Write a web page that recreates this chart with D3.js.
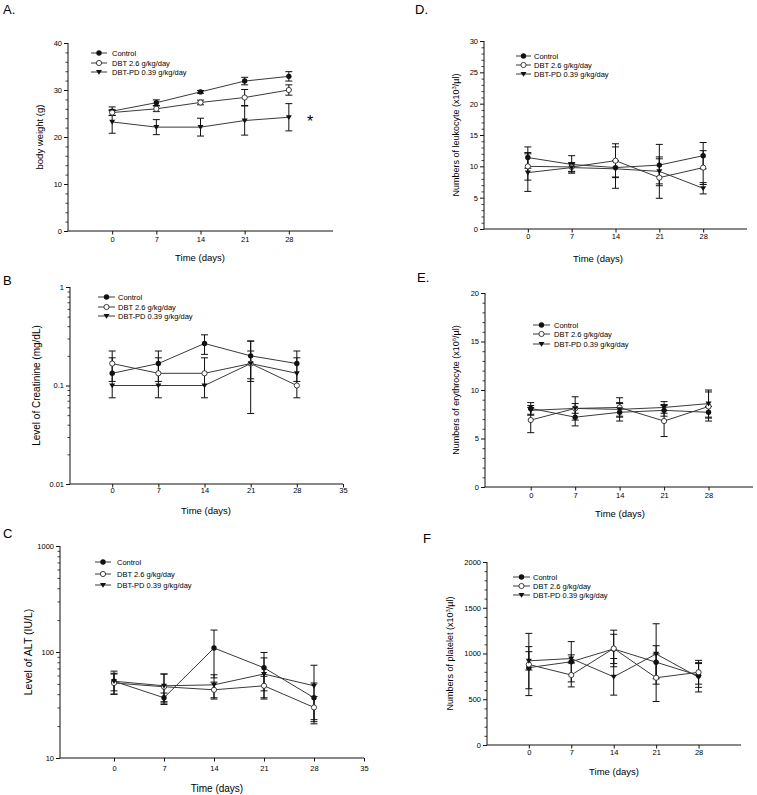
<!DOCTYPE html>
<html><head><meta charset="utf-8">
<script src="https://cdn.jsdelivr.net/npm/d3@7"></script>
<style>
body{margin:0;background:#fff}
svg{display:block}
text{font-family:"Liberation Sans",Arial,sans-serif;fill:#000}
</style>
</head><body>
<svg id="chart" width="757" height="795"></svg>
<script>
// ---------- data ----------
const days = [0, 7, 14, 21, 28];
const dayTicks = [0, 7, 14, 21, 28];
const dayTicksWide = [0, 7, 14, 21, 28, 35];
const seriesNames = ["Control", "DBT 2.6 g/kg/day", "DBT-PD 0.39 g/kg/day"];

// A. body weight (g)
const weightMeans = [[25.5, 27.3, 29.6, 31.9, 32.9], [25.2, 26.0, 27.35, 28.4, 30.0], [23.2, 22.1, 22.1, 23.5, 24.2]];
const weightErr   = [[0.9, 0.6, 0.3, 0.8, 1.0], [0.6, 0.6, 0.5, 1.7, 1.1], [2.4, 1.6, 1.9, 3.1, 2.9]];
const weightTicks = [0, 10, 20, 30, 40];

// B. creatinine (mg/dL)
const creatMeans = [[0.133, 0.167, 0.267, 0.2, 0.167], [0.167, 0.133, 0.133, 0.167, 0.1], [0.1, 0.1, 0.1, 0.167, 0.133]];
const creatErr   = [[0.058, 0.057, 0.06, 0.083, 0.057], [0.057, 0.058, 0.058, 0.115, 0], [0, 0, 0, 0.057, 0.058]];
const creatTicks = [0.01, 0.1, 1];

// C. ALT (IU/L)
const altMeans = [[53, 37, 109, 71, 37], [51, 47, 44, 48, 30], [53, 48, 49, 62, 48]];
const altErr   = [[13, 4, 52, 28, 14], [11, 15, 8, 11, 8], [10, 14, 12, 26, 27]];
const altTicks = [10, 100, 1000];

// D. leukocyte (x10^3/µl)
const leukoMeans = [[11.4, 10.3, 9.8, 10.2, 11.7], [10.0, 9.9, 10.9, 8.2, 9.8], [9.0, 9.8, 9.6, 9.2, 6.5]];
const leukoErr   = [[1.7, 1.4, 3.3, 3.3, 2.1], [2.2, 0.7, 2.7, 3.3, 2.7], [3.0, 0.7, 1.3, 2.0, 0.9]];
const leukoTicks = [0, 5, 10, 15, 20, 25, 30];

// E. erythrocyte (x10^6/µl)
const erythMeans = [[8.1, 7.2, 7.7, 7.9, 7.7], [6.9, 8.1, 8.2, 6.8, 8.3], [7.9, 8.1, 8.0, 8.2, 8.6]];
const erythErr   = [[0.6, 0.9, 0.9, 0.6, 0.6], [1.3, 1.2, 1.0, 1.6, 1.5], [0.5, 0.5, 0.7, 0.6, 1.4]];
const erythTicks = [0, 5, 10, 15, 20];

// F. platelet (x10^3/µl)
const platMeans = [[845, 910, 1050, 905, 760], [880, 765, 1055, 735, 795], [920, 945, 745, 995, 740]];
const platErr   = [[230, 220, 160, 180, 130], [340, 130, 200, 260, 130], [100, 40, 200, 330, 160]];
const platTicks = [0, 500, 1000, 1500, 2000];

// ---------- layout ----------
const panels = [
  {label: "A.", lx: 3, ly: 14, L: 68, R: 333, T: 43, B: 231, xdom: [-7, 35], xt: dayTicks, log: false,
   ydom: [0, 40], yt: weightTicks, minor: 2, means: weightMeans, errs: weightErr,
   ytitle: [["body weight (g)"]], ytx: 43, xtc: 200, xty: 261, xlo: 14,
   leg: {x1: 91, x2: 107, tx: 112, ys: [53, 63, 72]}, yfs: 9.5},
  {label: "B", lx: 3, ly: 285, L: 70, R: 343, T: 287, B: 484, xdom: [-6.4, 35], xt: dayTicksWide, log: true,
   ydom: [0.01, 1], yt: creatTicks, means: creatMeans, errs: creatErr,
   ytitle: [["Level of Creatinine (mg/dL)"]], ytx: 40, xtc: 206, xty: 514, xlo: 12,
   leg: {x1: 98, x2: 115, tx: 118, ys: [297, 307, 316]}, yfs: 10},
  {label: "C", lx: 3, ly: 538, L: 60, R: 364, T: 546, B: 758, xdom: [-7.56, 35], xt: dayTicksWide, log: true,
   ydom: [10, 1000], yt: altTicks, means: altMeans, errs: altErr,
   ytitle: [["Level of ALT (IU/L)"]], ytx: 32, xtc: 217, xty: 792, xlo: 16,
   leg: {x1: 95, x2: 111, tx: 117, ys: [562, 574, 585]}, yfs: 10.5, xfs: 10},
  {label: "D.", lx: 415, ly: 14, L: 484, R: 747, T: 41, B: 229, xdom: [-7, 35], xt: dayTicks, log: false,
   ydom: [0, 30], yt: leukoTicks, minor: 1, means: leukoMeans, errs: leukoErr,
   ytitle: [["Numbers of leukocyte (x10"], ["3", "sup"], ["/µl)"]], ytx: 459, xtc: 598, xty: 262, xlo: 13,
   leg: {x1: 516, x2: 531, tx: 534, ys: [56, 65, 74]}, yfs: 9},
  {label: "E.", lx: 417, ly: 282, L: 485, R: 753, T: 293, B: 487, xdom: [-7.2, 35], xt: dayTicks, log: false,
   ydom: [0, 20], yt: erythTicks, minor: 1, means: erythMeans, errs: erythErr,
   ytitle: [["Numbers of erythrocyte (x10"], ["6", "sup"], ["/µl)"]], ytx: 459, xtc: 620, xty: 517, xlo: 14,
   leg: {x1: 533, x2: 550, tx: 554, ys: [325, 334, 344]}, yfs: 9},
  {label: "F", lx: 423, ly: 543, L: 487, R: 741, T: 562, B: 745, xdom: [-6.9, 35], xt: dayTicks, log: false,
   ydom: [0, 2000], yt: platTicks, minor: 100, means: platMeans, errs: platErr,
   ytitle: [["Numbers of platelet (x10"], ["3", "sup"], ["/µl)"]], ytx: 453, xtc: 614, xty: 775, xlo: 13,
   leg: {x1: 513, x2: 530, tx: 533, ys: [577, 586, 595]}, yfs: 9}
];

const svg = d3.select("#chart");
const ink = "#111";
const lineCol = "#3a3a3a";

function drawMarker(g, kind, x, y) {
  if (kind === 0) {
    g.append("circle").attr("cx", x).attr("cy", y).attr("r", 2.7).attr("fill", ink);
  } else if (kind === 1) {
    g.append("circle").attr("cx", x).attr("cy", y).attr("r", 2.6).attr("fill", "#fff")
      .attr("stroke", ink).attr("stroke-width", 0.8);
  } else {
    const s = 3.0;
    g.append("path").attr("d", `M${x - s},${y - s * 0.7}L${x + s},${y - s * 0.7}L${x},${y + s * 0.95}Z`)
      .attr("fill", ink);
  }
}

panels.forEach(p => {
  const g = svg.append("g");
  const x = d3.scaleLinear().domain(p.xdom).range([p.L, p.R]);
  const y = p.log ? d3.scaleLog().domain(p.ydom).range([p.B, p.T])
                  : d3.scaleLinear().domain(p.ydom).range([p.B, p.T]);

  // minor ticks on y
  let minorVals = [];
  if (p.log) {
    for (let d = p.ydom[0]; d < p.ydom[1] * 0.999; d *= 10)
      for (let k = 2; k <= 9; k++) minorVals.push(d * k);
  } else {
    for (let v = p.ydom[0]; v <= p.ydom[1] + 1e-9; v += p.minor)
      if (!p.yt.some(t => Math.abs(t - v) < 1e-9)) minorVals.push(v);
  }
  const minorAxis = d3.axisLeft(y).tickValues(minorVals).tickSize(2.5).tickFormat("");
  g.append("g").attr("transform", `translate(${p.L},0)`).call(minorAxis)
    .call(a => a.select(".domain").remove())
    .selectAll("line").attr("stroke", ink).attr("stroke-width", 0.8);

  // y axis
  const yAxis = d3.axisLeft(y).tickValues(p.yt).tickSize(4).tickPadding(2)
    .tickFormat(d => p.log ? String(d) : d3.format("d")(d));
  const ya = g.append("g").attr("transform", `translate(${p.L},0)`).call(yAxis);
  ya.select(".domain").attr("d", `M0,${p.T}V${p.B}`).attr("stroke", ink).attr("stroke-width", 1);
  ya.selectAll(".tick line").attr("stroke", ink);
  ya.selectAll(".tick text").attr("font-size", 7.5).attr("font-family", "Liberation Sans, Arial, sans-serif").attr("fill", "#222");

  // x axis
  const xAxis = d3.axisBottom(x).tickValues(p.xt).tickSize(3.5).tickPadding(3);
  const xa = g.append("g").attr("transform", `translate(0,${p.B})`).call(xAxis);
  xa.select(".domain").attr("d", `M${p.L},0H${p.R}`).attr("stroke", ink).attr("stroke-width", 1);
  xa.selectAll(".tick line").attr("stroke", ink);
  xa.selectAll(".tick text").attr("font-size", 7.5).attr("font-family", "Liberation Sans, Arial, sans-serif")
    .attr("fill", "#222").attr("dy", null).attr("y", p.xlo - 3);

  // titles
  g.append("text").attr("x", p.lx).attr("y", p.ly).attr("font-size", 13).text(p.label);
  g.append("text").attr("x", p.xtc).attr("y", p.xty).attr("text-anchor", "middle")
    .attr("font-size", p.xfs || 9.5).text("Time (days)");
  const yt = g.append("text").attr("text-anchor", "middle").attr("font-size", p.yfs)
    .attr("transform", `translate(${p.ytx},${(p.T + p.B) / 2}) rotate(-90)`);
  p.ytitle.forEach(part => {
    const ts = yt.append("tspan").text(part[0]);
    if (part[1] === "sup") ts.attr("font-size", p.yfs * 0.65).attr("dy", -p.yfs * 0.35);
    else if (part !== p.ytitle[0]) ts.attr("dy", p.yfs * 0.35);
  });

  // series
  const lineGen = d3.line().x((d, i) => x(days[i])).y(d => y(d));
  p.means.forEach((m, si) => {
    g.append("path").datum(m).attr("d", lineGen).attr("fill", "none")
      .attr("stroke", lineCol).attr("stroke-width", 1);
  });
  // error bars
  p.means.forEach((m, si) => {
    m.forEach((v, i) => {
      const e = p.errs[si][i];
      if (!e) return;
      const cx = x(days[i]);
      const lo = Math.max(v - e, p.ydom[0]);
      const hi = v + e;
      g.append("line").attr("x1", cx).attr("x2", cx).attr("y1", y(lo)).attr("y2", y(hi))
        .attr("stroke", ink).attr("stroke-width", 1);
      [lo, hi].forEach(t => {
        if (v - e <= p.ydom[0] && t === lo) return;
        g.append("line").attr("x1", cx - 3.5).attr("x2", cx + 3.5).attr("y1", y(t)).attr("y2", y(t))
          .attr("stroke", ink).attr("stroke-width", 1);
      });
    });
  });
  // markers
  p.means.forEach((m, si) => {
    m.forEach((v, i) => drawMarker(g, si, x(days[i]), y(v)));
  });

  // legend
  seriesNames.forEach((name, si) => {
    const ly = p.leg.ys[si];
    g.append("line").attr("x1", p.leg.x1).attr("x2", p.leg.x2).attr("y1", ly).attr("y2", ly)
      .attr("stroke", lineCol).attr("stroke-width", 1);
    drawMarker(g, si, (p.leg.x1 + p.leg.x2) / 2, ly);
    g.append("text").attr("x", p.leg.tx).attr("y", ly + 2.7).attr("font-size", 7.5).text(name);
  });
});

// significance mark in panel A
svg.append("text").attr("x", 310).attr("y", 127).attr("text-anchor", "middle")
  .attr("font-size", 16).attr("fill", "#333").text("*");
</script>
</body></html>
